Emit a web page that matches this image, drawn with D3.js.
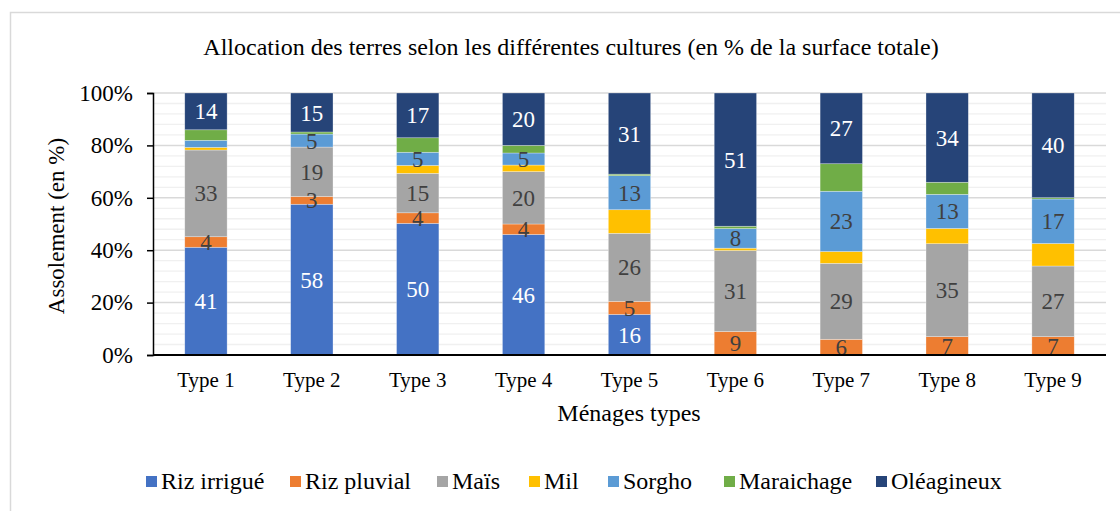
<!DOCTYPE html>
<html><head><meta charset="utf-8">
<script src="https://cdn.jsdelivr.net/npm/d3@7"></script>
<style>body{margin:0;background:#fff}svg, svg text{font-family:"Liberation Serif","Times New Roman",serif}</style>
</head><body><svg id="c" width="1120" height="511"></svg>
<script>
const categories = ["Type 1","Type 2","Type 3","Type 4","Type 5","Type 6","Type 7","Type 8","Type 9"];
const seriesNames = ["Riz irrigué","Riz pluvial","Maïs","Mil","Sorgho","Maraichage","Oléagineux"];
const rizIrrigue  = [41, 58, 50, 46, 15.5, 0, 0, 0, 0];
const rizPluvial  = [4, 3, 4, 4, 5, 9, 6, 7, 7];
const mais        = [33, 19, 15, 20, 26, 31, 29, 35.4, 27];
const mil         = [1, 0, 3, 2.5, 9, 0.9, 4.5, 5.8, 8.6];
const sorgho      = [2.7, 5, 5, 4.6, 13, 7.5, 23, 13, 17];
const maraichage  = [4, 0.8, 5.5, 2.9, 0.6, 0.9, 10.5, 4.6, 0.5];
const oleagineux  = [14, 15, 17, 20, 31, 51, 27, 34, 40];
const yTicks = [0, 0.2, 0.4, 0.6, 0.8, 1];

const FONT = "Liberation Serif";
const colors = ["#4472C4","#ED7D31","#A5A5A5","#FFC000","#5B9BD5","#70AD47","#264478"];
const labelColors = ["#fff","#404040","#404040",null,"#404040",null,"#fff"];
const seriesValues = [rizIrrigue, rizPluvial, mais, mil, sorgho, maraichage, oleagineux];

const rows = categories.map((c,i)=>{const o={cat:c}; seriesNames.forEach((s,j)=>o[s]=seriesValues[j][i]); return o;});
const stack = d3.stack().keys(seriesNames).offset(d3.stackOffsetExpand);
const layers = stack(rows);

const svg = d3.select("#c");
svg.append("rect").attr("x",10.5).attr("y",12.5).attr("width",1130).attr("height",520)
  .attr("fill","#fff").attr("stroke","#d9d9d9").attr("stroke-width",1.5);

const m = {l:153, r:1106, t:93, b:355};
const x = d3.scaleBand().domain(categories).range([m.l,m.r]).paddingInner(0.6).paddingOuter(0.3);
const y = d3.scaleLinear().domain([0,1]).range([m.b,m.t]);

// minor gridlines
const g = svg.append("g");
d3.range(0,1.0001,0.04).forEach(v=>{
  const major = Math.abs(v*5-Math.round(v*5))<1e-6;
  if(major) return;
  g.append("line").attr("x1",m.l).attr("x2",m.r).attr("y1",y(v)).attr("y2",y(v))
    .attr("stroke","#f0f0f0").attr("stroke-width",1.3);
});
yTicks.forEach(v=>{
  g.append("line").attr("x1",m.l).attr("x2",m.r).attr("y1",y(v)).attr("y2",y(v))
    .attr("stroke","#d9d9d9").attr("stroke-width",1.5);
});

// bars
layers.forEach((layer,j)=>{
  svg.append("g").selectAll("rect").data(layer).join("rect")
    .attr("x",d=>x(d.data.cat)).attr("width",x.bandwidth())
    .attr("y",d=>y(d[1])).attr("height",d=>Math.max(0,y(d[0])-y(d[1])))
    .attr("fill",colors[j]).attr("stroke","#fff").attr("stroke-opacity",0.5).attr("stroke-width",0.6);
});
// labels
layers.forEach((layer,j)=>{
  if(!labelColors[j]) return;
  svg.append("g").selectAll("text").data(layer.filter(d=>d.data[seriesNames[j]]>=3)).join("text")
    .attr("x",d=>x(d.data.cat)+x.bandwidth()/2).attr("y",d=>(y(d[0])+y(d[1]))/2)
    .attr("dy","0.35em").attr("text-anchor","middle").attr("font-size",23).attr("font-family",FONT)
    .attr("fill",labelColors[j]).text(d=>d3.format(".0f")(d.data[seriesNames[j]]));
});

// axes
const ya = svg.append("g").attr("transform",`translate(${m.l},0)`)
  .call(d3.axisLeft(y).tickValues(yTicks).tickFormat(d3.format(".0%")).tickSize(6).tickPadding(14));
ya.attr("font-family",FONT);
ya.selectAll("text").attr("font-size",23).attr("fill","#000").attr("font-family",FONT);
ya.selectAll("line").attr("stroke","#000").attr("stroke-width",1.5);
ya.select(".domain").attr("stroke","#000").attr("stroke-width",1.5);

const xa = svg.append("g").attr("transform",`translate(0,${m.b})`)
  .call(d3.axisBottom(x).tickSize(0).tickPadding(17));
xa.attr("font-family",FONT);
xa.selectAll("text").attr("font-size",21).attr("fill","#000").attr("font-family",FONT);
xa.select(".domain").attr("stroke","#000").attr("stroke-width",2).attr("d",`M${m.l},0H${m.r}`);

// titles
svg.append("text").attr("x",571).attr("y",55).attr("text-anchor","middle").attr("font-size",24).attr("font-family",FONT).text("Allocation des terres selon les différentes cultures (en % de la surface totale)");
svg.append("text").attr("x",629).attr("y",421).attr("text-anchor","middle").attr("font-size",24).attr("font-family",FONT).text("Ménages types");
svg.append("text").attr("transform","translate(64,226) rotate(-90)").attr("text-anchor","middle").attr("font-size",23).attr("font-family",FONT).text("Assolement (en %)");

// legend
const legX = [146,290,437,529,608,724,876];
const lg = svg.append("g");
seriesNames.forEach((s,j)=>{
  lg.append("rect").attr("x",legX[j]).attr("y",476).attr("width",11).attr("height",11).attr("fill",colors[j]);
  lg.append("text").attr("x",legX[j]+15).attr("y",489).attr("font-size",24).attr("font-family",FONT).text(s);
});
</script></body></html>
